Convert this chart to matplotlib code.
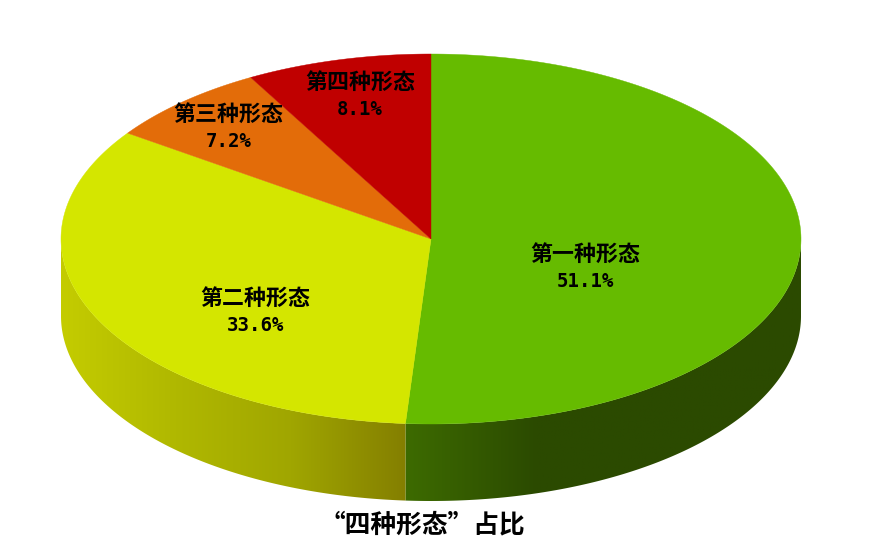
import numpy as np
import matplotlib
matplotlib.use("Agg")
import matplotlib.pyplot as plt
from matplotlib.colors import LinearSegmentedColormap
from matplotlib.patches import Polygon

# data
names = ["第一种形态", "第二种形态", "第三种形态", "第四种形态"]
shares = [51.1, 33.6, 7.2, 8.1]
title = "“四种形态”占比"

# styles
top_colors = ["#66bb00", "#d4e600", "#e36c09", "#c00000"]
wall_colors = [["#3d6b00", "#2b4a00", "#2b4a00", "#2b4a00"],
               ["#c4cc00", "#b0b800", "#a0a600", "#847f00"],
               None, None]

# layout in pixels of the 879x555 picture
cx, cy = 431, 239
rx, ry = 370, 185
depth = 77
label_xy = [(585.5, 254), (255.5, 298), (228.5, 114), (360, 82)]
line_gap = 27.5

fig = plt.figure(figsize=(8.79, 5.55), dpi=100)
ax = fig.add_axes([0, 0, 1, 1])


def arc(a0, a1, dy=0):
    # angles in degrees, clockwise from 12 o'clock
    t = np.radians(np.linspace(a0, a1, 200))
    return np.column_stack([cx + rx * np.sin(t), cy - ry * np.cos(t) + dy])


edges = np.concatenate([[0], np.cumsum(shares)]) / sum(shares) * 360

# side walls, only the front half of the rim shows
for i in range(len(shares)):
    a0, a1 = max(edges[i], 90), min(edges[i + 1], 270)
    if a0 >= a1 or wall_colors[i] is None:
        continue
    pts = np.vstack([arc(a0, a1), arc(a0, a1, depth)[::-1]])
    poly = Polygon(pts, closed=True, fc="none", ec="none")
    ax.add_patch(poly)
    cmap = LinearSegmentedColormap.from_list("wall", wall_colors[i])
    x0, x1 = pts[:, 0].min(), pts[:, 0].max()
    grad = np.linspace(0, 1, 256).reshape(1, -1)
    im = ax.imshow(grad, cmap=cmap, extent=[x0, x1, pts[:, 1].max(), pts[:, 1].min()],
                   aspect="auto", zorder=1)
    im.set_clip_path(poly)

# top face
for i, col in enumerate(top_colors):
    pts = np.vstack([[cx, cy], arc(edges[i], edges[i + 1])])
    ax.add_patch(Polygon(pts, closed=True, fc=col, ec=col, lw=0.3, zorder=2))

# labels
for (x, y), name, share in zip(label_xy, names, shares):
    ax.text(x, y, name, ha="center", va="center", fontsize=15.8, fontweight="bold",
            family=["Noto Sans CJK SC", "DejaVu Sans"], color="black", zorder=3)
    ax.text(x, y + line_gap, f"{share:.1f}%", ha="center", va="center", fontsize=13.7,
            fontweight="bold", family="DejaVu Sans Mono", color="black", zorder=3)

ax.text(422, 525, title, ha="center", va="center", fontsize=18.5, fontweight="bold",
        family=["Noto Sans CJK SC", "DejaVu Sans"], color="black", zorder=3)

ax.set_xlim(0, 879)
ax.set_ylim(555, 0)
ax.axis("off")

fig.savefig("out.png", dpi=100, facecolor="white")
